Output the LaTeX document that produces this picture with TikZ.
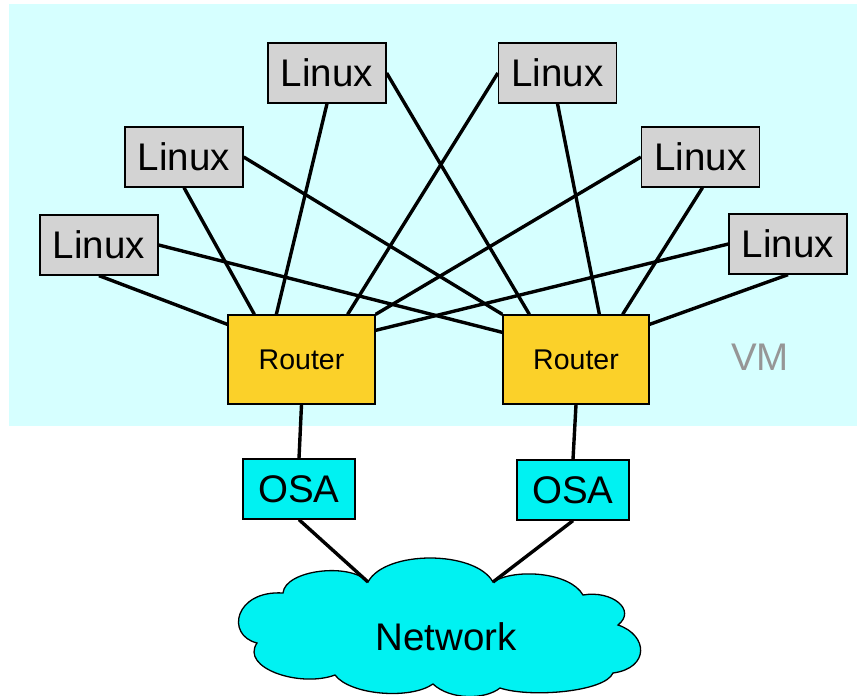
\documentclass[tikz,border=0pt]{standalone}
\usepackage{fontspec}
\setmainfont{Liberation Sans}
\usetikzlibrary{calc}
\definecolor{vmbg}{RGB}{214,255,255}
\definecolor{lgray}{RGB}{211,211,211}
\definecolor{ryellow}{RGB}{251,209,41}
\definecolor{ocyan}{RGB}{0,242,242}
\definecolor{vmgray}{RGB}{150,150,150}
\tikzset{
  linuxbox/.style={draw, fill=lgray, line width=1.3pt, inner sep=0pt,
    minimum width=118pt, minimum height=60pt, font=\fontsize{38.5}{40}\selectfont},
  routerbox/.style={draw, fill=ryellow, line width=1.3pt, inner sep=0pt,
    minimum width=147pt, minimum height=89pt, font=\fontsize{28.5}{30}\selectfont},
  osabox/.style={draw, fill=ocyan, line width=1.3pt, inner sep=0pt,
    minimum width=112pt, minimum height=60pt, font=\fontsize{38.5}{40}\selectfont},
  link/.style={line width=3.4pt},
}
\begin{document}
\begin{tikzpicture}[x=1pt,y=-1pt]
\path[use as bounding box] (0,0) rectangle (857,696);
\fill[vmbg] (9,4) rectangle (857,426);
\node[text=vmgray, font=\fontsize{38.5}{40}\selectfont] (vm) at (760,357) {VM};

\node[linuxbox] (L1) at (327,73) {Linux};
\node[linuxbox] (L2) at (184,157) {Linux};
\node[linuxbox] (L3) at (99,245) {Linux};
\node[linuxbox] (R1) at (557.5,73) {Linux};
\node[linuxbox] (R2) at (700.5,157) {Linux};
\node[linuxbox] (R3) at (788,244) {Linux};

\node[routerbox, text depth=-2pt] (RL) at (301.5,359.5) {Router};
\node[routerbox, text depth=-2pt, minimum width=146pt] (RR) at (576,359.5) {Router};

\node[osabox] (OL) at (299,489) {OSA};
\node[osabox] (OR) at (573,490) {OSA};

% cloud
\draw[fill=ocyan, line width=1.3pt]
  (283,593) coordinate (cA)
  .. controls (285,570) and (350,562) .. (368,582) coordinate (cB)
  .. controls (385,550) and (475,550) .. (493,582) coordinate (cC)
  .. controls (515,568) and (570,572) .. (583,595) coordinate (cD)
  .. controls (612,590) and (637,610) .. (618,625) coordinate (cE)
  .. controls (648,635) and (650,668) .. (613,673) coordinate (cF)
  .. controls (605,692) and (530,698) .. (500,688) coordinate (cG)
  .. controls (485,700) and (450,700) .. (433,684) coordinate (cH)
  .. controls (410,700) and (350,695) .. (335,675) coordinate (cI)
  .. controls (300,688) and (240,668) .. (257,643) coordinate (cJ)
  .. controls (225,635) and (235,590) .. (283,593) -- cycle;
\node[font=\fontsize{38.5}{40}\selectfont] (net) at (446,637) {Network};

% connectors
\draw[link] (L3.south) -- ($(RL.north west)+(0,10)$);
\draw[link] (L3.east) -- ($(RR.north west)+(0,18)$);
\draw[link] (L2.south) -- ($(RL.north west)+(27,0)$);
\draw[link] (L2.east) -- (RR.north west);
\draw[link] (L1.south) -- ($(RL.north west)+(49,0)$);
\draw[link] (L1.east) -- ($(RR.north west)+(27,0)$);
\draw[link] (R1.west) -- ($(RL.north east)+(-28,0)$);
\draw[link] (R1.south) -- ($(RR.north west)+(97,0)$);
\draw[link] (R2.west) -- (RL.north east);
\draw[link] ($(R2.south)+(2,0)$) -- ($(RR.north east)+(-27,0)$);
\draw[link] (R3.west) -- ($(RL.north east)+(0,16)$);
\draw[link] (R3.south) -- ($(RR.north east)+(0,10)$);
\draw[link] (RL.south) -- (OL.north);
\draw[link] (RR.south) -- (OR.north);
\draw[link] (OL.south) -- (cB);
\draw[link] (OR.south) -- (cC);
\end{tikzpicture}
\end{document}
